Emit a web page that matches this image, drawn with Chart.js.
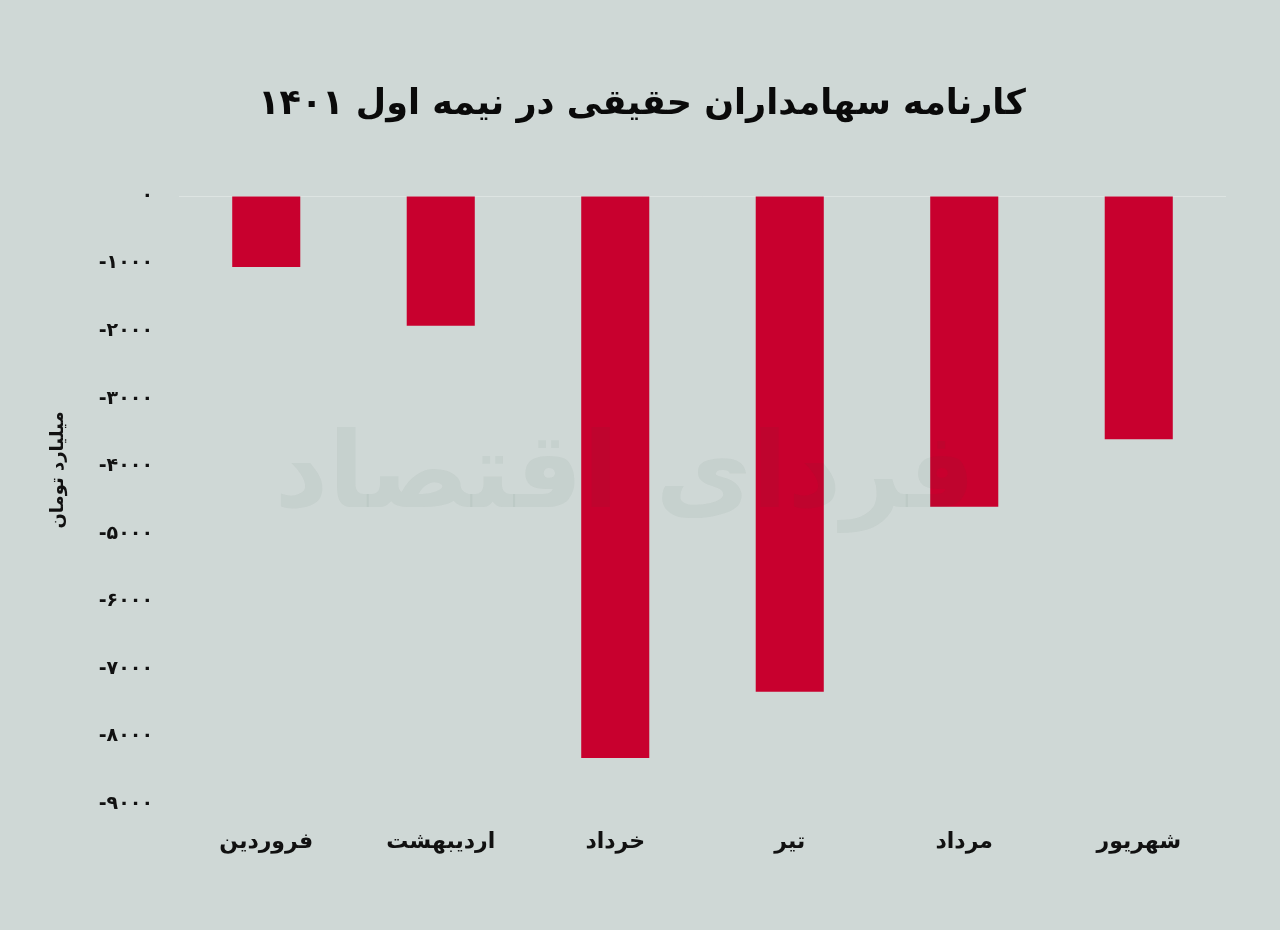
<!DOCTYPE html>
<html>
<head>
<meta charset="utf-8">
<script src="https://cdn.jsdelivr.net/npm/chart.js@4"></script>
<style>
html,body{margin:0;padding:0;background:#cfd8d6;}
#wrap{width:1280px;height:930px;position:relative;}
</style>
</head>
<body>
<div id="wrap"><canvas id="c" width="1280" height="930"></canvas></div>
<script>
const titleText = 'کارنامه سهامداران حقیقی در نیمه اول ۱۴۰۱';
const yAxisTitle = 'میلیارد تومان';
const watermarkText = 'فردای اقتصاد';
const categories = ['فروردین', 'اردیبهشت', 'خرداد', 'تیر', 'مرداد', 'شهریور'];
const values = [-1050, -1920, -8320, -7340, -4600, -3600];
const tickValues = [0, -1000, -2000, -3000, -4000, -5000, -6000, -7000, -8000, -9000];
const tickLabels = ['۰', '-۱۰۰۰', '-۲۰۰۰', '-۳۰۰۰', '-۴۰۰۰', '-۵۰۰۰', '-۶۰۰۰', '-۷۰۰۰', '-۸۰۰۰', '-۹۰۰۰'];

const FONT = "'DejaVu Sans', sans-serif";

const bgPlugin = {
  id: 'bg',
  beforeDraw(chart) {
    const ctx = chart.ctx;
    ctx.save();
    ctx.fillStyle = '#cfd8d6';
    ctx.fillRect(0, 0, chart.width, chart.height);
    ctx.restore();
  }
};

const extraText = {
  id: 'extraText',
  afterDraw(chart) {
    const ctx = chart.ctx;
    ctx.save();
    ctx.translate(58, 470);
    ctx.rotate(-Math.PI / 2);
    ctx.fillStyle = '#111';
    ctx.font = "bold 18px " + FONT;
    ctx.textAlign = 'center';
    ctx.textBaseline = 'middle';
    ctx.fillText(yAxisTitle, 0, 0);
    ctx.restore();
  },
  afterDatasetsDraw(chart) {
    const ctx = chart.ctx;
    ctx.save();
    ctx.globalAlpha = 0.05;
    ctx.fillStyle = '#2f4a3c';
    ctx.font = "bold 105px " + FONT;
    ctx.textAlign = 'center';
    ctx.textBaseline = 'middle';
    ctx.fillText(watermarkText, 625, 480);
    ctx.restore();
  }
};

new Chart(document.getElementById('c'), {
  type: 'bar',
  data: {
    labels: categories,
    datasets: [{
      data: values,
      backgroundColor: '#c8002e',
      borderWidth: 0,
      barPercentage: 0.39,
      categoryPercentage: 1.0
    }]
  },
  options: {
    responsive: false,
    animation: false,
    devicePixelRatio: 1,
    layout: { padding: { left: 58, right: 54, top: 0, bottom: 0 } },
    plugins: {
      legend: { display: false },
      tooltip: { enabled: false },
      title: {
        display: true,
        text: titleText,
        color: '#0a0a0a',
        font: { family: FONT, size: 35, weight: 'bold', lineHeight: 1.2 },
        padding: { top: 84, bottom: 70 }
      }
    },
    scales: {
      x: {
        grid: { display: false, drawTicks: false },
        border: { display: false },
        ticks: {
          color: '#111',
          font: { family: FONT, size: 22, weight: 'bold' },
          padding: 25,
          maxRotation: 0
        },
        afterFit(scale) { scale.height = 126; }
      },
      y: {
        min: -9000,
        max: 0,
        afterBuildTicks(scale) { scale.ticks = tickValues.map(v => ({ value: v })); },
        grid: {
          drawTicks: false,
          color: ctx => (ctx.tick && ctx.tick.value === 0) ? 'rgba(255,255,255,0.3)' : 'rgba(0,0,0,0)',
          lineWidth: 1
        },
        border: { display: false },
        ticks: {
          color: '#111',
          font: { family: FONT, size: 19, weight: 'bold' },
          padding: 26,
          callback: (v) => {
            const i = tickValues.indexOf(v);
            return i >= 0 ? tickLabels[i] : '';
          }
        },
        afterFit(scale) { scale.width = 121; }
      }
    }
  },
  plugins: [bgPlugin, extraText]
});
</script>
</body>
</html>
